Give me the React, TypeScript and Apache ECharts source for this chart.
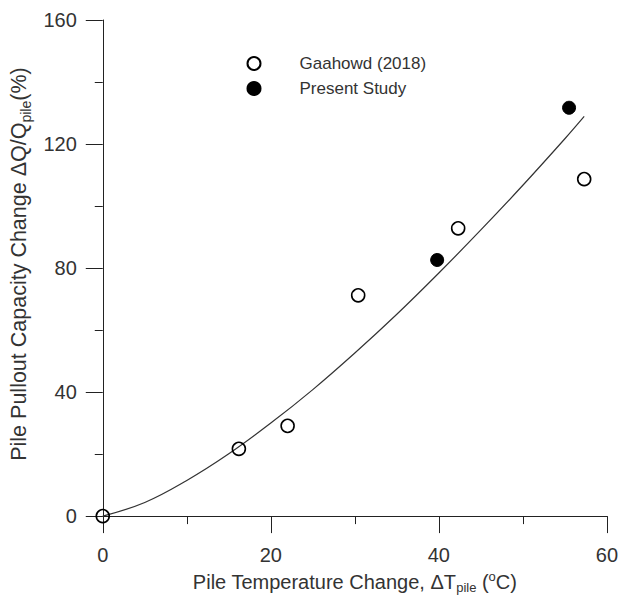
import React, { useEffect, useRef } from "react";
import * as echarts from "echarts";

const gaahowdX = [0, 16.2, 22.0, 30.4, 42.3, 57.3];
const gaahowdY = [0, 21.7, 29.1, 71.2, 92.8, 108.7];
const presentX = [39.8, 55.5];
const presentY = [82.6, 131.7];
const fitX = [0, 5, 10, 15, 20, 25, 30, 35, 40, 45, 50, 55, 57.3];
const fitY = [0, 4.4, 11.5, 20.1, 30.0, 40.8, 52.6, 65.1, 78.4, 92.3, 106.7, 121.7, 128.9];
const xTicks = [0, 20, 40, 60];
const yTicks = [0, 40, 80, 120, 160];

const FONT = "'Liberation Sans', Arial, Helvetica, sans-serif";
const INK = "#222";
const TXT = "#333";

export default function App() {
  const ref = useRef<HTMLDivElement>(null);
  useEffect(() => {
    if (!ref.current) return;
    const chart = echarts.init(ref.current, undefined, { renderer: "svg" });
    const zip = (xs: number[], ys: number[]) => xs.map((x, i) => [x, ys[i]]);
    const axisCommon = {
      axisLine: { show: true, lineStyle: { color: INK, width: 1 } },
      axisTick: { show: true, inside: false, length: 17, lineStyle: { color: INK, width: 1 } },
      minorTick: { show: true, splitNumber: 2, length: 8, lineStyle: { color: INK, width: 1 } },
      splitLine: { show: false },
      minorSplitLine: { show: false },
    };
    chart.setOption({
      animation: false,
      backgroundColor: "#fff",
      textStyle: { fontFamily: FONT },
      grid: { left: 102, right: 13, top: 20, bottom: 74.5, containLabel: false },
      legend: {
        data: ["Gaahowd (2018)", "Present Study"],
        orient: "vertical",
        left: 246.5,
        top: 55,
        padding: 0,
        itemWidth: 13,
        itemHeight: 13,
        itemGap: 8,
        selectedMode: false,
        textStyle: { fontFamily: FONT, fontSize: 17, color: TXT, padding: [0, 0, 0, 34] },
      },
      xAxis: {
        type: "value",
        min: xTicks[0],
        max: xTicks[xTicks.length - 1],
        interval: xTicks[1] - xTicks[0],
        ...axisCommon,
        axisLabel: { fontFamily: FONT, fontSize: 20, color: TXT, margin: 29 },
        name: "Pile Temperature Change, \u0394T{sub|pile} ({sup|o}C)",
        nameLocation: "middle",
        nameGap: 41,
        nameTextStyle: {
          fontFamily: FONT,
          fontSize: 20,
          color: TXT,
          rich: {
            sub: { fontFamily: FONT, fontSize: 13, color: TXT, padding: [12, 0, 0, 0] },
            sup: { fontFamily: FONT, fontSize: 13, color: TXT, padding: [0, 0, 10, 0] },
          },
        },
      },
      yAxis: {
        type: "value",
        min: yTicks[0],
        max: yTicks[yTicks.length - 1],
        interval: yTicks[1] - yTicks[0],
        ...axisCommon,
        axisLabel: { fontFamily: FONT, fontSize: 20, color: TXT, margin: 26 },
        name: "Pile Pullout Capacity Change \u0394Q/Q{sub|pile}(%)",
        nameLocation: "middle",
        nameGap: 67,
        nameTextStyle: {
          fontFamily: FONT,
          fontSize: 21.5,
          color: TXT,
          padding: [0, 0, 0, 8],
          rich: {
            sub: { fontFamily: FONT, fontSize: 14, color: TXT, padding: [13, 0, 0, 0] },
          },
        },
      },
      series: [
        {
          name: "fit",
          type: "line",
          data: zip(fitX, fitY),
          smooth: 0.4,
          showSymbol: false,
          lineStyle: { color: "#333", width: 1.2 },
          z: 1,
        },
        {
          name: "Gaahowd (2018)",
          type: "scatter",
          data: zip(gaahowdX, gaahowdY),
          symbol: "circle",
          symbolSize: 13,
          itemStyle: { color: "rgba(0,0,0,0)", borderColor: "#000", borderWidth: 1.6, opacity: 1 },
          z: 3,
        },
        {
          name: "Present Study",
          type: "scatter",
          data: zip(presentX, presentY),
          symbol: "circle",
          symbolSize: 13,
          itemStyle: { color: "#000", borderColor: "#000", borderWidth: 1, opacity: 1 },
          z: 3,
        },
      ],
    });
    return () => chart.dispose();
  }, []);
  return (
    <div
      ref={ref}
      style={{ position: "absolute", left: 0, top: 0, width: 621, height: 599 }}
    />
  );
}
